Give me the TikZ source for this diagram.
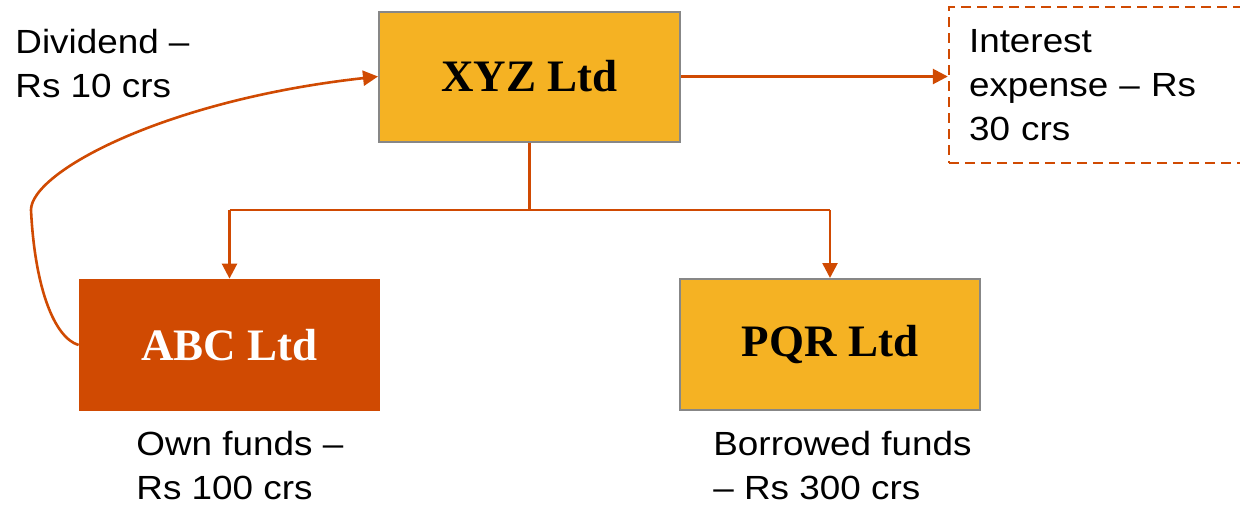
\documentclass[tikz,border=0pt]{standalone}
\usepackage{fontspec}
\setmainfont{Liberation Sans}
\newfontfamily\labfont[FakeStretch=1.1,Ligatures=TeX]{Liberation Sans}
\newfontfamily\boxfont{Liberation Serif}
\usetikzlibrary{arrows.meta}
\definecolor{pwcorange}{HTML}{D04A02}
\definecolor{pwcyellow}{HTML}{F5B223}
\definecolor{bordergray}{HTML}{878787}
\begin{document}
\begin{tikzpicture}[x=0.5pt,y=-0.5pt,
  boxtext/.style={font=\boxfont\bfseries\fontsize{22.5pt}{27pt}\selectfont},
  company/.style={boxtext,draw=bordergray,line width=1pt,fill=pwcyellow,inner sep=0pt},
  focus/.style={boxtext,fill=pwcorange,text=white,inner sep=0pt},
  note/.style={font=\labfont\fontsize{16.75pt}{22pt}\selectfont,align=left,inner sep=0pt},
  notebox/.style={note,draw=pwcorange,line width=1.2pt,dash pattern=on 5pt off 3pt,
     text width=130.5pt,inner xsep=10pt,inner ysep=0pt},
  link/.style={draw=pwcorange,line width=1.3pt},
  arrowlink/.style={link,-{Triangle[length=7.5pt,width=7.5pt]}}]
\useasboundingbox (0,0) rectangle (1240,505);

\node[company,minimum width=150.5pt,minimum height=65pt] (xyz) at (529.5,76.5) {XYZ Ltd};
\node[focus,minimum width=150.5pt,minimum height=66pt] (abc) at (229.5,345) {ABC Ltd};
\node[company,minimum width=150pt,minimum height=65.5pt] (pqr) at (830,344.5) {PQR Ltd};
\node[notebox,minimum width=150.5pt,minimum height=78pt] (int) at (1099.5,85)
  {Interest\\expense – Rs\\30 crs};

\node[note,anchor=base west] (div) at (15,97) {Dividend –\\Rs 10 crs};
\node[note,anchor=base west] (own) at (136,499) {Own funds –\\Rs 100 crs};
\node[note,anchor=base west] (bor) at (713,499) {Borrowed funds\\– Rs 300 crs};

\coordinate (split) at (529.5,210);
\coordinate (leftc) at (229.5,210);
\coordinate (rightc) at (830,210);

\draw[arrowlink] (xyz.east) -- (xyz.east -| int.west);
\draw[link] (xyz.south) -- (split);
\draw[link] (leftc) -- (rightc);
\draw[arrowlink] (leftc) -- (abc.north);
\draw[arrowlink] (rightc) -- (pqr.north);

\draw[arrowlink] (abc.west) .. controls (55,338) and (35,290) .. (31,210)
  .. controls (31,172) and (165,100) .. (xyz.west);
\end{tikzpicture}
\end{document}
